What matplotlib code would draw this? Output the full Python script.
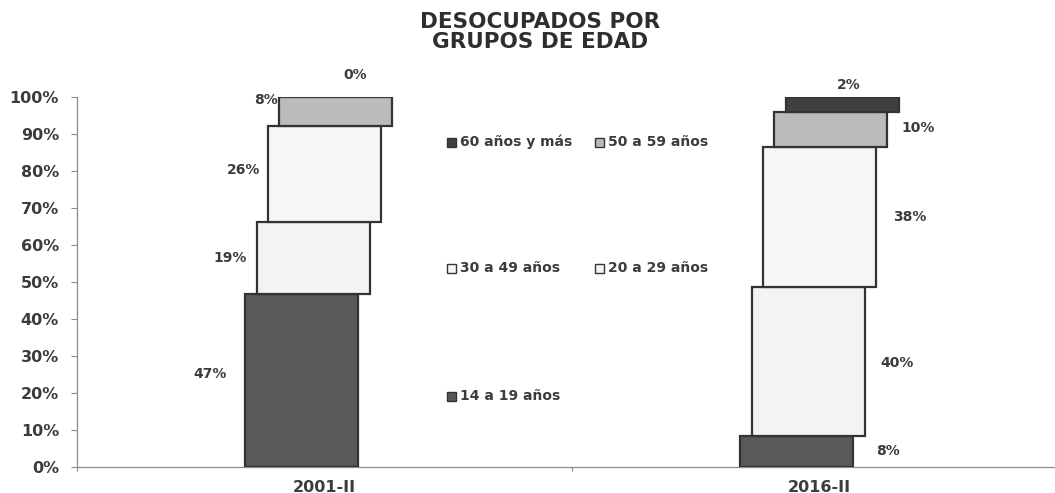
import numpy as np
import matplotlib
matplotlib.use("Agg")
import matplotlib.pyplot as plt
from matplotlib.patches import Rectangle
from matplotlib.ticker import FixedLocator, FuncFormatter

# ---- data (percent of unemployed by age group, bar heights as drawn) ----
periods = ["2001-II", "2016-II"]
groups = ["14 a 19 años", "20 a 29 años", "30 a 49 años", "50 a 59 años", "60 años y más"]
share_2001 = [46.8, 19.3, 26.1, 7.8, 0.0]
share_2016 = [8.4, 40.3, 37.8, 9.5, 4.0]
labels_2001 = ["47%", "19%", "26%", "8%", "0%"]
labels_2016 = ["8%", "40%", "38%", "10%", "2%"]

colors = ["#595959", "#f2f3f3", "#f6f6f6", "#bbbbbd", "#404040"]
edge = "#333333"
text_col = "#3c3c3c"

plt.rcParams["font.family"] = "DejaVu Sans"
plt.rcParams["font.weight"] = "bold"

fig = plt.figure(figsize=(10.55, 4.93), dpi=100)
W, H = 1055, 493
# axes spans past the right edge like the original
ax = fig.add_axes([77 / W, (H - 467) / H, (1067 - 77) / W, 370 / H])

bar_w = 0.228
step = 0.0228

# label offsets in pixels (dx, dy) per segment
off_2001 = [(-19, 6), (-10, 0), (-8, 4), (-1, 11), (8, 22)]
off_2016 = [(23, 0), (16, -2), (17, 0), (14, 1), (7, 12)]

all_shares = [share_2001, share_2016]
all_labels = [labels_2001, labels_2016]
all_offs = [off_2001, off_2016]

for c, (vals, labs, offs) in enumerate(zip(all_shares, all_labels, all_offs)):
    bottoms = np.concatenate([[0], np.cumsum(vals)[:-1]]) / 100.0
    for i, v in enumerate(vals):
        x = c + (i - 2) * step
        h = v / 100.0
        if h > 0:
            ax.bar(x, h, width=bar_w, bottom=bottoms[i], color=colors[i],
                   edgecolor=edge, linewidth=1.6, zorder=3)
        dx, dy = offs[i]
        if i == len(vals) - 1:
            anchor = (x, bottoms[i] + h)
            ha = "center"
        elif c == 0:
            anchor = (x - bar_w / 2, bottoms[i] + h / 2)
            ha = "right"
        else:
            anchor = (x + bar_w / 2, bottoms[i] + h / 2)
            ha = "left"
        ax.annotate(labs[i], anchor, xytext=(dx, dy), textcoords="offset pixels",
                    ha=ha, va="center", fontsize=10, color=text_col,
                    fontweight="bold", annotation_clip=False)

ax.set_xlim(-0.5, 1.5)
ax.set_ylim(0, 1)

ax.xaxis.set_major_locator(FixedLocator([-0.5, 0.5, 1.5]))
ax.xaxis.set_minor_locator(FixedLocator([0, 1]))
ax.set_xticklabels([], minor=False)
ax.set_xticklabels(periods, minor=True)
ax.tick_params(axis="x", which="major", length=3, color="#8c8c8c", width=0.8)
ax.tick_params(axis="x", which="minor", length=0, pad=9, labelsize=11.5,
               labelcolor=text_col)

ax.set_yticks(np.arange(0, 1.01, 0.1))
ax.yaxis.set_major_formatter(FuncFormatter(lambda v, p: f"{v * 100:.0f}%"))
ax.tick_params(axis="y", length=4, pad=9, color="#8c8c8c", width=0.8,
               labelsize=11.5, labelcolor=text_col)

for s in ["top", "right"]:
    ax.spines[s].set_visible(False)
for s in ["left", "bottom"]:
    ax.spines[s].set_color("#8c8c8c")
    ax.spines[s].set_linewidth(0.9)

# ---- legend, placed like the original (spread over plot) ----
legend_pos = {
    "60 años y más": (447, 142),
    "50 a 59 años": (595, 142),
    "30 a 49 años": (447, 268),
    "20 a 29 años": (595, 268),
    "14 a 19 años": (447, 396),
}
msz = 9
for g, col in zip(groups, colors):
    px, py = legend_pos[g]
    fig.add_artist(Rectangle((px / W, (H - py - msz / 2) / H), msz / W, msz / H,
                             transform=fig.transFigure, facecolor=col,
                             edgecolor=edge, linewidth=1.0))
    fig.text((px + msz + 4) / W, (H - py) / H, g, ha="left", va="center",
             fontsize=10, color=text_col, fontweight="bold")

fig.text(540 / W, (H - 32) / H, "DESOCUPADOS POR\nGRUPOS DE EDAD", ha="center",
         va="center", fontsize=15.5, fontweight="bold", color="#2e2e2e",
         linespacing=1.0)

fig.savefig("out.png", dpi=100)
